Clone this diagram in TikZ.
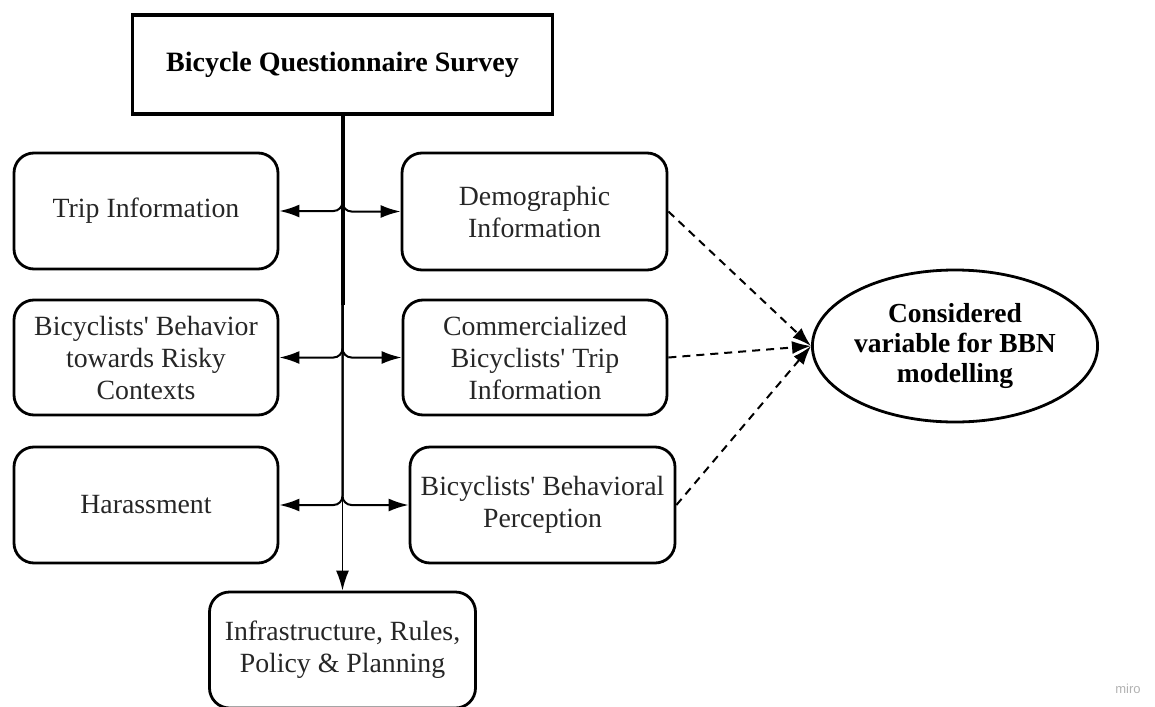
\documentclass[tikz,border=0pt]{standalone}
\usepackage{fontspec}
\setmainfont{Liberation Serif}
\newfontfamily\wmfont{Liberation Sans}
\usetikzlibrary{arrows.meta,shapes.geometric}
\newcommand{\apos}{\textquotesingle}
\begin{document}
\begin{tikzpicture}[x=1pt,y=-1pt,
  txt/.style={font=\fontsize{27.8}{32}\selectfont, text=black!85},
  rbox/.style={txt, draw, line width=2.8pt, rounded corners=20pt,
    minimum width=264pt, minimum height=116pt, inner sep=0pt, align=center},
  titlebox/.style={draw, line width=3.4pt, minimum width=420pt, minimum height=99pt,
    inner sep=0pt, font=\bfseries\fontsize{28}{32}\selectfont},
  oval/.style={ellipse, draw, line width=2.8pt, minimum width=256pt, minimum height=152pt,
    inner sep=0pt, align=center, font=\bfseries\fontsize{27.5}{30}\selectfont},
  branch/.style={line width=2pt, rounded corners=9pt, -{Latex[length=20pt,width=13pt]}},
  feed/.style={line width=2pt, dash pattern=on 8pt off 6pt, -{Latex[length=19pt,width=13pt]}}
]
\useasboundingbox (0,0) rectangle (1155,706);
\clip (0,0) rectangle (1155,706);

% survey root
\node[titlebox] (top) at (342.5,64.5) {Bicycle Questionnaire Survey};

% left column
\node[rbox] (trip) at (146,211) {Trip Information};
\node[rbox, minimum height=115pt] (risk) at (146,357.5) {Bicyclists\apos{} Behavior\\towards Risky\\Contexts};
\node[rbox] (har) at (146,505) {Harassment};

% right column
\node[rbox, minimum width=265pt, minimum height=117pt] (demo) at (534.5,211.5) {Demographic\\Information};
\node[rbox, minimum height=115pt] (comm) at (535,357.5) {Commercialized\\Bicyclists\apos{} Trip\\Information};
\node[rbox, minimum width=265pt] (perc) at (542.5,505) {Bicyclists\apos{} Behavioral\\Perception};

% bottom
\node[rbox, minimum width=266pt] (infra) at (342.5,650) {Infrastructure, Rules,\\Policy \& Planning};

% target variable
\node[oval] (bbn) at (955,346) {Considered\\variable for BBN\\modelling};

% trunk
\coordinate (trunkend) at (342.5,305);
\draw[line width=4pt] (top.south) -- (trunkend);

% branches
\draw[branch] (top.south) |- (trip.east);
\draw[branch] (top.south) |- (demo.west);
\draw[branch] (top.south) |- (risk.east);
\draw[branch] (top.south) |- (comm.west);
\draw[branch] (top.south) |- (har.east);
\draw[branch] (top.south) |- (perc.west);
\draw[line width=1.8pt, -{Latex[length=20pt,width=13pt]}] (top.south) -- (infra.north);

% considered variables
\draw[feed] (demo.east) -- (bbn.west);
\draw[feed] (comm.east) -- (bbn.west);
\draw[feed] (perc.east) -- (bbn.west);

% watermark
\node[font=\wmfont\fontsize{13}{13}\selectfont, text=black!30] (wm) at (1128,689) {miro};
\end{tikzpicture}
\end{document}
